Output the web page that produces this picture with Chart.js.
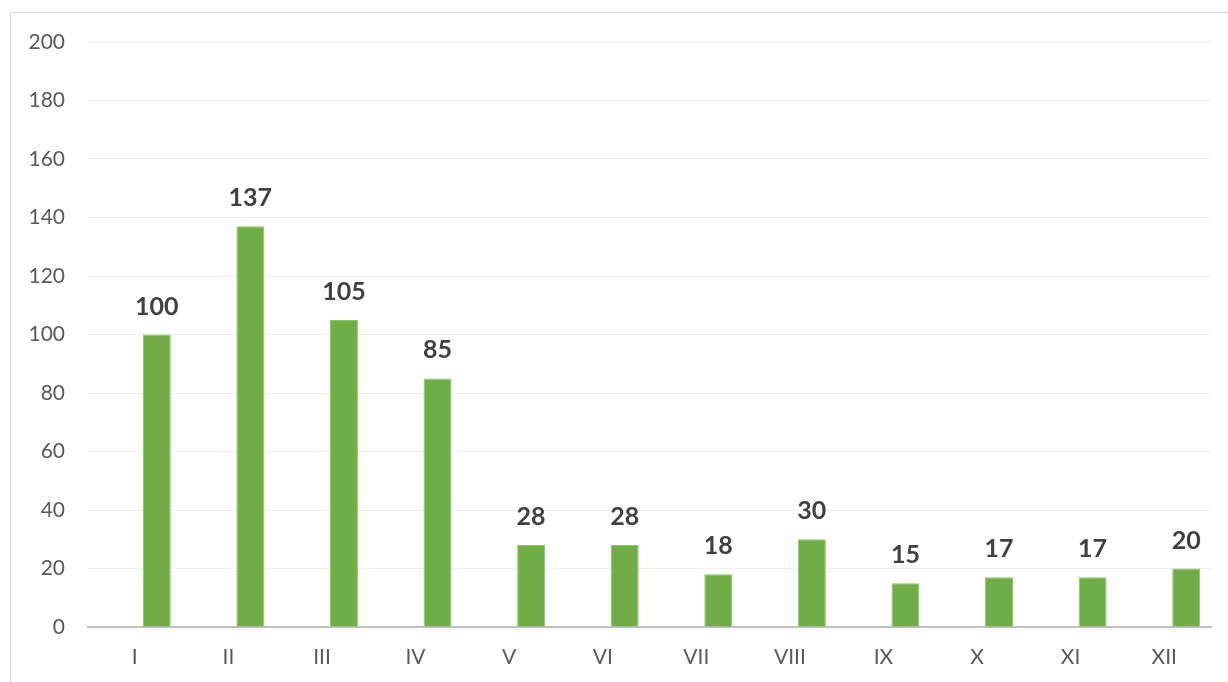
<!DOCTYPE html>
<html>
<head>
<meta charset="utf-8">
<script src="https://cdn.jsdelivr.net/npm/chart.js@4/dist/chart.umd.min.js"></script>
<style>
  html, body { margin: 0; padding: 0; background: #fff; overflow: hidden; }
  #frame {
    position: absolute; left: 10px; top: 12px;
    width: 1300px; height: 720px;
    border: 1px solid #d9d9d9;
  }
  #wrap { position: absolute; left: 0; top: 0; width: 1228px; height: 682px; }
</style>
</head>
<body>
<div id="frame"></div>
<div id="wrap"><canvas id="mainChart" width="1228" height="682"></canvas></div>
<script>
const months = ['I', 'II', 'III', 'IV', 'V', 'VI', 'VII', 'VIII', 'IX', 'X', 'XI', 'XII'];
const counts = [100, 137, 105, 85, 28, 28, 18, 30, 15, 17, 17, 20];
// empty first series, so the bars sit right of the category centre like in the original
const emptySeries = [null, null, null, null, null, null, null, null, null, null, null, null];

const barLabels = {
  id: 'barLabels',
  afterDatasetsDraw(chart) {
    const ctx = chart.ctx;
    const meta = chart.getDatasetMeta(1);
    ctx.save();
    ctx.font = 'bold 25px Lato';
    ctx.fillStyle = '#404040';
    ctx.textAlign = 'center';
    ctx.textBaseline = 'alphabetic';
    meta.data.forEach((bar, i) => {
      ctx.fillText(String(counts[i]), bar.x, bar.y - 20);
    });
    ctx.restore();
  }
};

const ctx = document.getElementById('mainChart').getContext('2d');
new Chart(ctx, {
  type: 'bar',
  data: {
    labels: months,
    datasets: [
      { label: 'empty', data: emptySeries, backgroundColor: 'rgba(0,0,0,0)' },
      {
        label: 'Count',
        data: counts,
        backgroundColor: '#70ad47',
        borderColor: '#8cc26a',
        borderWidth: 1
      }
    ]
  },
  options: {
    responsive: false,
    animation: false,
    categoryPercentage: 0.94,
    barPercentage: 0.636,
    layout: { padding: { top: 42, right: 17, left: 0, bottom: 0 } },
    plugins: {
      legend: { display: false },
      tooltip: { enabled: false }
    },
    scales: {
      x: {
        grid: { display: false, drawTicks: false },
        border: { display: true, color: '#bfbfbf', width: 2 },
        ticks: {
          color: '#595959',
          font: { family: 'Lato', size: 21 },
          padding: 18,
          maxRotation: 0
        },
        afterFit(scale) { scale.height = 55; }
      },
      y: {
        min: 0,
        max: 200,
        grid: { color: '#ededed', lineWidth: 1, drawTicks: false },
        border: { display: false },
        ticks: {
          stepSize: 20,
          color: '#595959',
          font: { family: 'Lato', size: 21 },
          padding: 23
        },
        afterFit(scale) { scale.width = 88; }
      }
    }
  },
  plugins: [barLabels]
});
</script>
</body>
</html>
